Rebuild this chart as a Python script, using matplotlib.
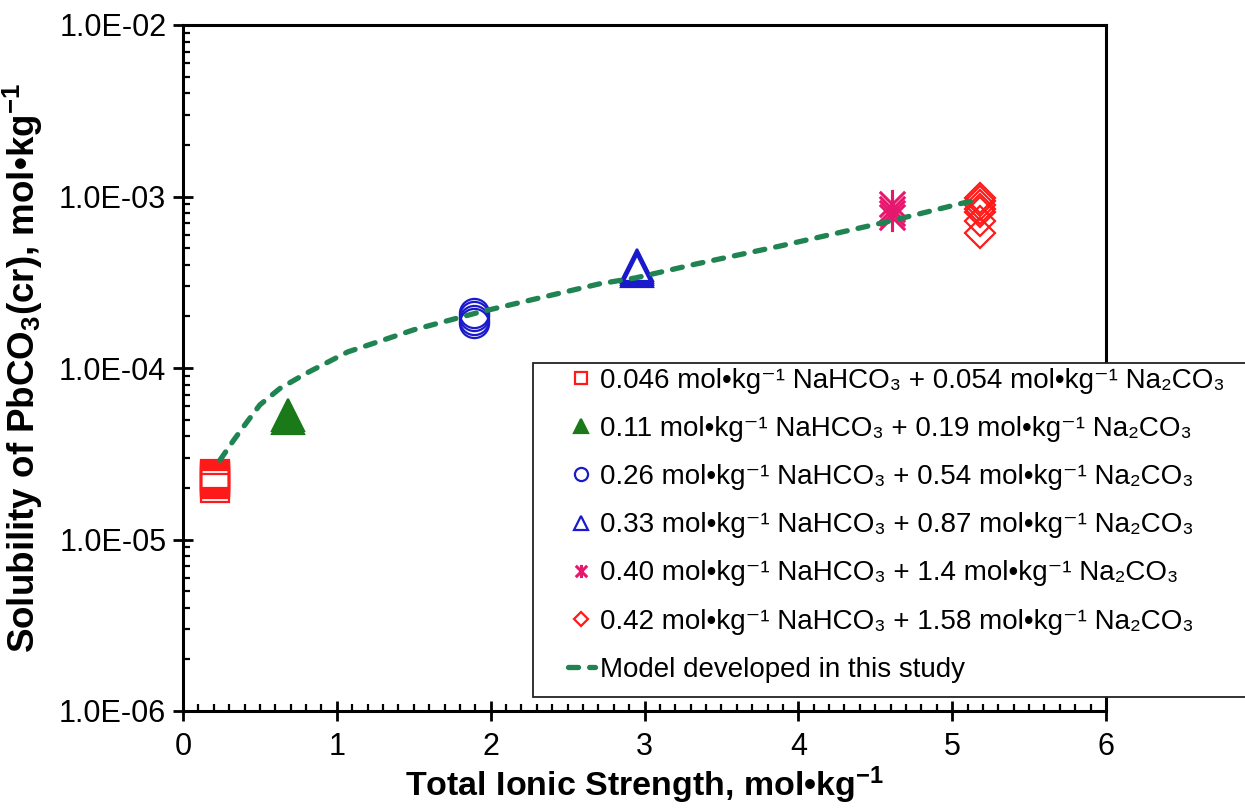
import matplotlib
matplotlib.use("Agg")
import matplotlib.pyplot as plt
from matplotlib.path import Path
from matplotlib.ticker import FuncFormatter, LogLocator, MultipleLocator, NullFormatter
from matplotlib.patches import Rectangle

# ---------------- data ----------------
sq_x = [0.21] * 8
sq_y = [2.0e-5, 2.1e-5, 2.15e-5, 2.2e-5, 2.25e-5, 2.3e-5, 2.35e-5, 2.4e-5]

gtri_x = [0.68, 0.68]
gtri_y = [5.1e-5, 5.3e-5]

circ_x = [1.89] * 4
circ_y = [1.83e-4, 1.9e-4, 2.0e-4, 2.09e-4]

btri_x = [2.95] * 4
btri_y = [3.7e-4, 3.8e-4, 3.9e-4, 4.0e-4]

star_x = [4.61] * 4
star_y = [7.6e-4, 8.0e-4, 8.5e-4, 9.1e-4]

dia_x = [5.18] * 7
dia_y = [6.1e-4, 7.2e-4, 8.1e-4, 8.5e-4, 8.9e-4, 9.4e-4, 9.8e-4]

model_x = [0.24, 0.33, 0.42, 0.50, 0.63, 0.80, 1.07, 1.50, 1.93, 2.30,
           2.71, 2.94, 3.34, 3.88, 4.60, 5.07, 5.15]
model_y = [2.9e-5, 3.8e-5, 4.9e-5, 6.1e-5, 7.6e-5, 9.3e-5, 1.24e-4, 1.67e-4,
           2.12e-4, 2.54e-4, 3.1e-4, 3.35e-4, 4.05e-4, 5.14e-4, 7.2e-4,
           9.16e-4, 9.5e-4]

labels = [
    "0.046 mol\u2022kg\u207b\u00b9 NaHCO\u2083 + 0.054 mol\u2022kg\u207b\u00b9 Na\u2082CO\u2083",
    "0.11 mol\u2022kg\u207b\u00b9 NaHCO\u2083 + 0.19 mol\u2022kg\u207b\u00b9 Na\u2082CO\u2083",
    "0.26 mol\u2022kg\u207b\u00b9 NaHCO\u2083 + 0.54 mol\u2022kg\u207b\u00b9 Na\u2082CO\u2083",
    "0.33 mol\u2022kg\u207b\u00b9 NaHCO\u2083 + 0.87 mol\u2022kg\u207b\u00b9 Na\u2082CO\u2083",
    "0.40 mol\u2022kg\u207b\u00b9 NaHCO\u2083 + 1.4 mol\u2022kg\u207b\u00b9 Na\u2082CO\u2083",
    "0.42 mol\u2022kg\u207b\u00b9 NaHCO\u2083 + 1.58 mol\u2022kg\u207b\u00b9 Na\u2082CO\u2083",
    "Model developed in this study",
]

x_ticks = [0, 1, 2, 3, 4, 5, 6]

# ---------------- style ----------------
plt.rcParams['font.family'] = ['Liberation Sans', 'DejaVu Sans']
plt.rcParams['mathtext.fontset'] = 'custom'
plt.rcParams['mathtext.rm'] = 'Liberation Sans:bold'
plt.rcParams['mathtext.bf'] = 'Liberation Sans:bold'
plt.rcParams['mathtext.default'] = 'bf'

RED = '#ff1a1a'
GREEN = '#1a7a1a'
BLUE = '#1a1acc'
PINK = '#e6186e'
LINE = '#1f8452'

star_path = Path([(-1, -1), (1, 1), (-1, 1), (1, -1), (0, -1.15), (0, 1.15)],
                 [Path.MOVETO, Path.LINETO, Path.MOVETO, Path.LINETO,
                  Path.MOVETO, Path.LINETO])

W, H = 1245, 810
fig = plt.figure(figsize=(W / 100, H / 100), dpi=100)
ax = fig.add_axes([183 / W, 1 - 711 / H, (1106 - 183) / W, (711 - 25) / H])

ax.set_yscale('log')
ax.set_xlim(0, 6)
ax.set_ylim(1e-6, 1e-2)

mew = 1.6
h1, = ax.plot(sq_x, sq_y, ls='none', marker='s', ms=20, mfc='none', mec=RED, mew=mew)
h2, = ax.plot(gtri_x, gtri_y, ls='none', marker='^', ms=23, mfc=GREEN, mec=GREEN, mew=mew)
h3, = ax.plot(circ_x, circ_y, ls='none', marker='o', ms=21, mfc='none', mec=BLUE, mew=mew)
h4, = ax.plot(btri_x, btri_y, ls='none', marker='^', ms=23, mfc='none', mec=BLUE, mew=mew)
h5, = ax.plot(star_x, star_y, ls='none', marker=star_path, ms=21, mfc='none', mec=PINK, mew=2.2)
h6, = ax.plot(dia_x, dia_y, ls='none', marker='D', ms=15, mfc='none', mec=RED, mew=mew)
h7, = ax.plot(model_x, model_y, ls=(0, (1.9, 2.1)), color=LINE, lw=3.8,
              dash_capstyle='round', zorder=3)

for s in ax.spines.values():
    s.set_linewidth(2.2)

ax.xaxis.set_major_locator(MultipleLocator(1))
ax.xaxis.set_minor_locator(MultipleLocator(0.1))
ax.yaxis.set_major_locator(LogLocator(base=10, numticks=10))
ax.yaxis.set_minor_locator(LogLocator(base=10, subs=range(2, 10), numticks=20))
ax.yaxis.set_minor_formatter(NullFormatter())
ax.yaxis.set_major_formatter(FuncFormatter(lambda v, p: f"{v:.1E}"))
ax.set_xticks(x_ticks)

ax.tick_params(which='major', direction='inout', length=14, width=2, labelsize=22)
ax.tick_params(which='minor', direction='in', length=5, width=1.6)
ax.tick_params(axis='x', which='major', pad=8)
ax.tick_params(axis='y', which='major', pad=5)

ax.set_xlabel("Total Ionic Strength, mol\u2022kg$^{-1}$", fontsize=24.5,
              fontweight='bold', labelpad=2)
ax.set_ylabel("Solubility of PbCO$_3$(cr), mol\u2022kg$^{-1}$", fontsize=26.5,
              fontweight='bold', labelpad=10)

# legend frame
fig.patches.append(Rectangle((533 / W, 1 - 697 / H), (1260 - 533) / W, (697 - 363) / H,
                             transform=fig.transFigure, fill=True, facecolor='white',
                             edgecolor='#222222', lw=1.3, zorder=5))

leg = fig.legend([h1, h2, h3, h4, h5, h6, h7], labels,
                 loc='upper left', bbox_to_anchor=(562 / W, 1 - 362 / H),
                 bbox_transform=fig.transFigure, frameon=False,
                 prop={'family': ['Liberation Sans', 'DejaVu Sans'], 'size': 20},
                 markerscale=0.45, handlelength=1.0, handletextpad=0.15,
                 borderpad=0.2, labelspacing=0.8, borderaxespad=0)
leg.set_zorder(6)

fig.savefig('out.png', dpi=100)
